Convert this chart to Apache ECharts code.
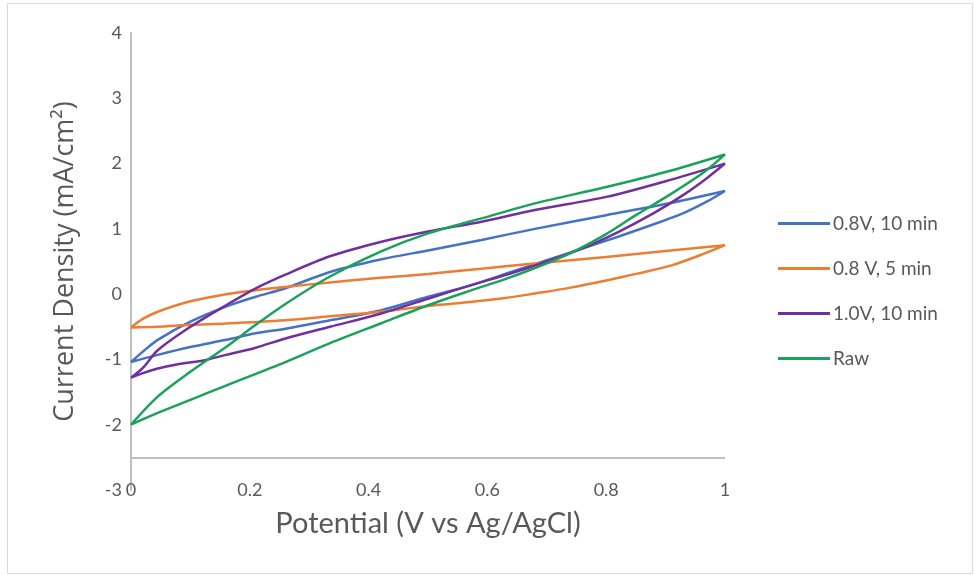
<!DOCTYPE html>
<html>
<head>
<meta charset="utf-8">
<script src="https://cdn.jsdelivr.net/npm/echarts@6/dist/echarts.min.js"></script>
<style>html,body{margin:0;padding:0;background:#fff}#chart{width:975px;height:575px}</style>
</head>
<body>
<div id="chart"></div>
<script>
// Legend / series names
const seriesNames = ['0.8V, 10 min', '0.8 V, 5 min', '1.0V, 10 min', 'Raw'];
// X-axis ticks (Potential, V vs Ag/AgCl) and Y-axis ticks (mA/cm2)
const xTicks = [0, 0.2, 0.4, 0.6, 0.8, 1];
const yTicks = [-3, -2, -1, 0, 1, 2, 3, 4];

// Each loop: [potential, current density], forward scan then reverse scan
const blue08V10 = [
  [0,-1.04],[0.02,-0.88],[0.045,-0.70],[0.1,-0.42],[0.16,-0.19],[0.21,-0.04],[0.26,0.09],[0.335,0.34],[0.42,0.53],[0.5,0.67],[0.59,0.83],[0.68,1.0],[0.8,1.21],[0.9,1.38],[1.0,1.58],
  [0.97,1.42],[0.93,1.24],[0.88,1.07],[0.82,0.88],[0.76,0.70],[0.70,0.52],[0.64,0.34],[0.57,0.13],[0.5,-0.04],[0.42,-0.25],[0.335,-0.40],[0.26,-0.53],[0.21,-0.60],[0.16,-0.70],[0.1,-0.81],[0.045,-0.93],[0,-1.04]
];
const orange08V5 = [
  [0,-0.51],[0.02,-0.38],[0.045,-0.27],[0.1,-0.11],[0.16,0.0],[0.21,0.06],[0.26,0.11],[0.335,0.18],[0.42,0.25],[0.5,0.31],[0.59,0.39],[0.68,0.47],[0.8,0.57],[0.9,0.66],[1.0,0.75],
  [0.965,0.62],[0.91,0.44],[0.85,0.31],[0.8,0.21],[0.74,0.10],[0.68,0.01],[0.63,-0.06],[0.57,-0.12],[0.5,-0.18],[0.42,-0.27],[0.335,-0.34],[0.26,-0.40],[0.16,-0.45],[0.1,-0.47],[0.045,-0.50],[0,-0.51]
];
const purple10V10 = [
  [0,-1.28],[0.02,-1.13],[0.045,-0.86],[0.1,-0.50],[0.16,-0.17],[0.21,0.09],[0.26,0.30],[0.335,0.58],[0.42,0.80],[0.5,0.96],[0.59,1.11],[0.68,1.29],[0.8,1.49],[0.9,1.73],[1.0,2.0],
  [0.97,1.78],[0.93,1.52],[0.88,1.24],[0.82,0.95],[0.76,0.70],[0.70,0.50],[0.64,0.32],[0.57,0.13],[0.5,-0.07],[0.42,-0.30],[0.335,-0.50],[0.26,-0.68],[0.21,-0.82],[0.16,-0.93],[0.12,-1.02],[0.095,-1.05],[0.075,-1.08],[0.045,-1.14],[0.02,-1.21],[0,-1.28]
];
const greenRaw = [
  [0,-2.0],[0.045,-1.57],[0.1,-1.19],[0.16,-0.81],[0.21,-0.47],[0.26,-0.15],[0.335,0.27],[0.42,0.65],[0.5,0.93],[0.59,1.16],[0.68,1.39],[0.8,1.64],[0.9,1.87],[1.0,2.14],
  [0.965,1.87],[0.91,1.54],[0.85,1.21],[0.8,0.92],[0.74,0.63],[0.68,0.40],[0.63,0.23],[0.57,0.05],[0.5,-0.17],[0.42,-0.45],[0.335,-0.75],[0.26,-1.04],[0.16,-1.40],[0.1,-1.62],[0.045,-1.82],[0,-2.0]
];
const loops = [blue08V10, orange08V5, purple10V10, greenRaw];
const colors = ['#4472c4', '#ed7d31', '#7030a0', '#1aa25a'];
const xAxisCross = -2.5;

const chart = echarts.init(document.getElementById('chart'), null, {renderer: 'canvas'});
const series = loops.map((d, i) => {
  const s = {
    name: seriesNames[i], type: 'line', data: d, showSymbol: false, symbol: 'none',
    smooth: 0.3, lineStyle: {color: colors[i], width: 2.5}, itemStyle: {color: colors[i]}
  };
  if (i === 0) {
    s.markLine = {
      silent: true, symbol: ['none', 'none'], label: {show: false},
      lineStyle: {color: '#bfbfbf', width: 2, type: 'solid'},
      emphasis: {disabled: true},
      data: [{yAxis: xAxisCross}]
    };
  }
  return s;
});

chart.setOption({
  animation: false,
  backgroundColor: '#fff',
  graphic: [{
    type: 'rect', shape: {x: 7.5, y: 3.5, width: 965, height: 570},
    style: {fill: 'none', stroke: '#d9d9d9', lineWidth: 1}, silent: true, z: -1
  }],
  grid: {left: 131, right: 250, top: 33, bottom: 85},
  legend: {
    orient: 'vertical', left: 773, top: 209,
    icon: 'rect', itemWidth: 52, itemHeight: 3, itemGap: 26, itemStyle: {borderWidth: 0},
    textStyle: {color: '#595959', fontSize: 19, fontFamily: 'Lato', padding: [0, 0, 0, -2]},
    data: seriesNames
  },
  xAxis: {
    type: 'value', min: xTicks[0], max: xTicks[xTicks.length - 1], interval: 0.2,
    name: 'Potential (V vs Ag/AgCl)', nameLocation: 'middle', nameGap: 19,
    nameTextStyle: {color: '#595959', fontSize: 29, fontFamily: 'Lato'},
    axisLine: {show: false}, axisTick: {show: false}, splitLine: {show: false},
    axisLabel: {color: '#595959', fontSize: 18, fontFamily: 'Lato', margin: 0, verticalAlign: 'middle'}
  },
  yAxis: {
    type: 'value', min: yTicks[0], max: yTicks[yTicks.length - 1], interval: 1,
    name: 'Current Density (mA/cm²)', nameLocation: 'middle', nameGap: 52, nameRotate: 90,
    nameTextStyle: {color: '#595959', fontSize: 27, fontFamily: 'Open Sans'},
    axisLine: {show: true, lineStyle: {color: '#bfbfbf', width: 2}},
    axisTick: {show: false}, splitLine: {show: false},
    axisLabel: {color: '#595959', fontSize: 18, fontFamily: 'Lato', margin: 9}
  },
  series: series
});
</script>
</body>
</html>
